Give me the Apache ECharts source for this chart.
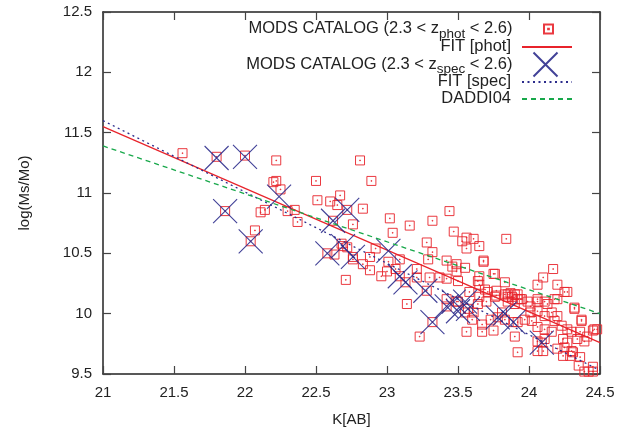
<!DOCTYPE html>
<html><head><meta charset="utf-8">
<script src="https://cdn.jsdelivr.net/npm/echarts@6/dist/echarts.min.js"></script>
<style>html,body{margin:0;padding:0;background:#fff}#c{width:629px;height:432px}</style>
</head><body><div id="c"></div>
<script>
// MODS catalog, photometric redshift 2.3<z<2.6 : [K(AB), log(Ms/Mo)]
const photPoints = [
[21.56,11.33],[21.80,11.30],[22.00,11.31],[22.22,11.27],[22.81,11.27],[22.22,11.10],[22.20,11.09],[22.50,11.10],
[22.89,11.10],[22.25,11.03],[22.67,10.98],[22.51,10.94],[22.60,10.93],[22.65,10.90],[22.83,10.87],[21.86,10.85],
[22.11,10.84],[22.14,10.86],[22.30,10.85],[22.35,10.86],[22.37,10.76],[22.72,10.86],[22.62,10.77],[22.76,10.74],
[22.07,10.69],[22.04,10.60],[22.68,10.58],[22.58,10.50],[22.72,10.55],[22.76,10.45],[22.71,10.28],[23.02,10.79],
[23.16,10.73],[23.32,10.77],[23.44,10.85],[23.47,10.68],[23.04,10.67],[23.28,10.59],[23.32,10.51],[22.92,10.54],
[22.88,10.47],[22.83,10.41],[22.88,10.36],[22.63,10.49],[23.21,10.37],[23.42,10.44],[23.46,10.39],[23.01,10.43],
[23.09,10.45],[23.06,10.37],[22.96,10.31],[23.00,10.35],[23.30,10.30],[23.37,10.30],[23.42,10.29],[23.29,10.45],
[23.49,10.41],[23.55,10.38],[23.56,10.63],[23.53,10.60],[23.61,10.62],[23.56,10.54],[23.65,10.56],[23.84,10.62],
[23.68,10.44],[23.68,10.43],[23.65,10.31],[23.75,10.33],[23.76,10.33],[23.83,10.26],[23.50,10.27],[23.65,10.24],
[23.69,10.20],[23.77,10.19],[23.85,10.16],[23.92,10.12],[23.99,10.10],[24.06,10.10],[24.11,10.10],[24.17,10.37],
[24.10,10.30],[24.06,10.24],[24.20,10.24],[24.25,10.18],[24.32,10.05],[24.37,9.95],[24.48,9.87],[24.45,9.86],
[23.14,10.08],[23.23,9.81],[23.42,10.12],[23.49,10.10],[23.61,10.01],[23.67,9.85],[23.75,9.86],[23.90,9.81],
[23.92,9.68],[24.10,9.69],[24.24,9.65],[24.31,9.68],[24.35,9.57],[24.39,9.52],[24.45,9.56],[24.45,9.52],
[23.87,10.17],[23.90,10.16],[23.71,10.18],[23.76,10.14],[23.85,10.14],[23.94,10.12],[24.06,10.12],[24.18,10.12],
[23.58,10.18],[23.65,10.14],[23.70,10.10],[23.88,10.14],[23.85,10.10],[23.90,10.08],[23.95,10.12],[24.01,10.06],
[24.01,10.01],[24.13,10.08],[24.20,10.12],[24.27,10.18],[24.32,10.04],[24.06,10.02],[24.11,9.98],[24.16,10.01],
[24.20,9.98],[24.18,9.94],[24.23,9.90],[24.27,9.87],[24.30,9.85],[24.37,9.94],[24.36,9.85],[24.41,9.81],
[24.46,9.87],[24.39,9.77],[24.34,9.79],[24.27,9.76],[24.24,9.79],[24.25,9.72],[24.30,9.69],[24.36,9.64],
[24.29,9.65],[24.20,9.71],[24.16,9.85],[24.11,9.87],[24.06,9.89],[24.11,9.79],[24.06,9.77],[24.06,9.69],
[23.81,10.01],[23.83,9.95],[23.92,9.93],[23.97,9.95],[24.02,9.94],[23.73,9.95],[23.64,10.08],[23.50,10.10],
[23.60,9.95],[23.55,10.01],[23.67,9.91],[23.56,9.85],[24.42,9.52],[23.09,10.31],[23.28,10.19],[23.32,9.93],
[23.78,9.97],[24.09,9.76],[23.64,10.27],[23.83,10.16],[23.77,10.15],[23.92,10.16],[23.21,10.30],[23.49,10.35],
[22.76,10.47],[23.13,10.26],[23.42,10.06],[23.57,10.04],[23.89,9.93],[22.69,10.56]
];
// MODS catalog, spectroscopic redshift 2.3<z<2.6
const specPoints = [
[21.80,11.29],[22.00,11.30],[21.86,10.85],[22.04,10.60],[22.24,10.97],[22.62,10.77],[22.72,10.86],[22.58,10.50],
[22.69,10.56],[22.76,10.47],[23.01,10.52],[23.09,10.31],[23.13,10.26],[23.27,10.19],[23.32,9.93],[23.42,10.06],
[23.47,10.10],[23.50,10.02],[23.57,10.04],[23.55,10.10],[23.78,9.97],[23.83,10.00],[23.89,9.93],[24.09,9.76]
];
// fitted relations: [K, logM] at the two ends of the plotted range
const fitPhot = [[21,11.55],[24.5,9.76]];
const fitSpec = [[21,11.60],[24.5,9.53]];
const daddi04 = [[21,11.39],[24.5,10.00]];
const legendLabels = ['MODS CATALOG (2.3 < z|phot| < 2.6)','FIT [phot]','MODS CATALOG (2.3 < z|spec| < 2.6)','FIT [spec]','DADDI04'];

const RED = '#e8232b', BLUE = '#2c2c8c', GREEN = '#17a84a';
const FONT = 'Liberation Sans, Arial, sans-serif';
const sq = 'path://M0,0H10V10H0Z M4.6,4.6H5.4V5.4H4.6Z';
const cross = 'path://M0,0L10,10M10,0L0,10';
const chart = echarts.init(document.getElementById('c'), null, {renderer:'canvas'});
const axisCommon = {
  type:'value', axisLine:{show:true,onZero:false,lineStyle:{color:'#222',width:1.5}},
  axisTick:{show:true,inside:true,length:8,lineStyle:{color:'#444',width:1.2}},
  splitLine:{show:false}
};
function richLabel(label){
  const p = label.split('|');
  if(p.length===3) return '{a|'+p[0]+'}{s|'+p[1]+'}{a|'+p[2]+'}';
  return '{a|'+label+'}';
}
function mkLegend(name,label,top,itemW,itemH,right,gap){
  return {data:[name],orient:'vertical',align:'right',right:right,top:top,
    itemWidth:itemW,itemHeight:itemH,itemGap:0,padding:0,selectedMode:false,
    textStyle:{width:300,align:'right',
      rich:{a:{fontFamily:FONT,fontSize:16.5,color:'#222',lineHeight:18,verticalAlign:'top'},
            s:{fontFamily:FONT,fontSize:13.5,color:'#222',lineHeight:14,verticalAlign:'top',padding:[7,0,0,0]},
            g:{width:gap}}},
    formatter:function(){return richLabel(label)+'{g| }';}};
}
const N1='CAT (phot)', N2='FIT [phot]', N3='CAT (spec)', N4='FIT [spec]', N5='DADDI04';
chart.setOption({
  animation:false,
  grid:{left:103,right:29,top:12,bottom:57},
  legend:[
    mkLegend(N1,legendLabels[0],20,9,9,73.5,26.5),
    mkLegend(N2,legendLabels[1],38,50,14,56,6),
    mkLegend(N3,legendLabels[2],50,24,24,69,16),
    mkLegend(N4,legendLabels[3],73,50,14,56,6),
    mkLegend(N5,legendLabels[4],90,50,14,56,6)
  ],
  xAxis:[
    Object.assign({},axisCommon,{position:'bottom',min:21,max:24.5,interval:0.5,
      axisLabel:{color:'#222',fontFamily:FONT,fontSize:15,margin:11,formatter:v=>String(v)},
      name:'K[AB]',nameLocation:'middle',nameGap:38,nameTextStyle:{color:'#222',fontFamily:FONT,fontSize:15}}),
    Object.assign({},axisCommon,{position:'top',min:21,max:24.5,interval:0.5,axisLabel:{show:false}})
  ],
  yAxis:[
    Object.assign({},axisCommon,{position:'left',min:9.5,max:12.5,interval:0.5,
      axisLabel:{color:'#222',fontFamily:FONT,fontSize:15,margin:11,formatter:v=>String(v)},
      name:'log(Ms/Mo)',nameLocation:'middle',nameGap:71,nameTextStyle:{color:'#222',fontFamily:FONT,fontSize:15}}),
    Object.assign({},axisCommon,{position:'right',min:9.5,max:12.5,interval:0.5,axisLabel:{show:false}})
  ],
  series:[
    {name:N1,type:'scatter',data:photPoints,symbol:sq,symbolSize:9,symbolKeepAspect:true,
      itemStyle:{color:'none',borderColor:RED,borderWidth:1,opacity:0.9},z:2},
    {name:N2,type:'line',data:fitPhot,symbol:'circle',showSymbol:false,lineStyle:{color:RED,width:1.2},itemStyle:{color:'transparent'},z:3},
    {name:N3,type:'scatter',data:specPoints,symbol:cross,symbolSize:24,symbolKeepAspect:true,
      itemStyle:{color:'none',borderColor:BLUE,borderWidth:1.1,opacity:0.9},z:4},
    {name:N4,type:'line',data:fitSpec,symbol:'circle',showSymbol:false,lineStyle:{color:BLUE,width:1.3,type:[2,3.5]},itemStyle:{color:'transparent'},z:5},
    {name:N5,type:'line',data:daddi04,symbol:'circle',showSymbol:false,lineStyle:{color:GREEN,width:1.3,type:[5,4]},itemStyle:{color:'transparent'},z:6}
  ]
});
</script></body></html>
